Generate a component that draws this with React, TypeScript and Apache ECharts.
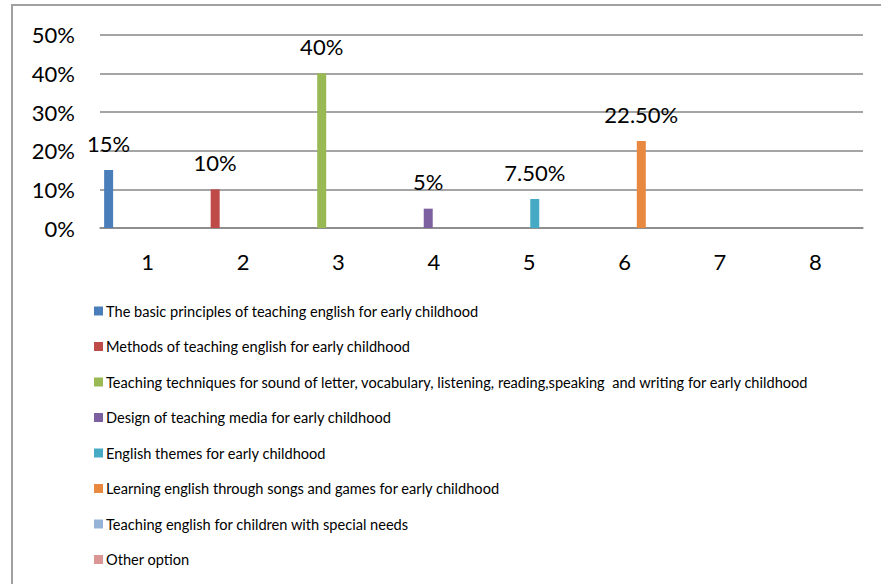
import React, { useEffect, useRef } from "react";
import * as echarts from "echarts";

const categories = ["1", "2", "3", "4", "5", "6", "7", "8"];
const seriesNames = [
  "The basic principles of teaching english for early childhood",
  "Methods of teaching english for early childhood",
  "Teaching techniques for sound of letter, vocabulary, listening, reading,speaking  and writing for early childhood",
  "Design of teaching media for early childhood",
  "English themes for early childhood",
  "Learning english through songs and games for early childhood",
  "Teaching english for children with special needs",
  "Other option",
];
// value of each series (shown only at its own category)
const seriesValues = [15, 10, 40, 5, 7.5, 22.5, null, null];
const valueLabels = ["15%", "10%", "40%", "5%", "7.50%", "22.50%", "", ""];
const colors = ["#4A7EBB", "#BE4B48", "#98B954", "#7D60A0", "#46AAC5", "#E9883F", "#95B3D7", "#D99694"];

export default function App() {
  const ref = useRef<HTMLDivElement>(null);
  useEffect(() => {
    const chart = echarts.init(ref.current!, null, { renderer: "svg" });
    const font = "Lato, 'Open Sans', sans-serif";
    const series = seriesNames.map((name, i) => ({
      name,
      type: "bar",
      barWidth: 9,
      barGap: "24%",
      itemStyle: { color: colors[i] },
      label: {
        show: true,
        position: "top",
        distance: 16,
        fontSize: 22,
        fontFamily: font,
        color: "#000",
        formatter: () => valueLabels[i],
      },
      data: categories.map((_, j) => (j === i && seriesValues[i] != null ? seriesValues[i] : null)),
    }));
    chart.setOption({
      animation: false,
      textStyle: { fontFamily: font },
      graphic: [
        {
          type: "rect",
          shape: { x: 12, y: 5, width: 900, height: 620 },
          style: { fill: "none", stroke: "#A0A0A0", lineWidth: 2 },
          silent: true,
        },
      ],
      grid: { left: 100, right: 18, top: 34.7, bottom: 356, containLabel: false },
      xAxis: {
        type: "category",
        data: categories,
        axisLine: { show: true, lineStyle: { color: "#878787", width: 1.5 } },
        axisTick: { show: false },
        axisLabel: { fontSize: 22, color: "#000", fontFamily: font, margin: 22 },
      },
      yAxis: {
        type: "value",
        min: 0,
        max: 50,
        interval: 10,
        axisLine: { show: false },
        axisTick: { show: false },
        axisLabel: { fontSize: 22, color: "#000", fontFamily: font, margin: 25, formatter: "{value}%" },
        splitLine: { lineStyle: { color: "#878787", width: 1.5 } },
      },
      legend: {
        orient: "vertical",
        left: 89,
        top: 298,
        itemWidth: 9,
        itemHeight: 9,
        itemGap: 19.5,
        icon: "rect",
        selectedMode: false,
        textStyle: { fontSize: 14.6, color: "#000", fontFamily: font, lineHeight: 16, padding: [0, 0, 0, -2] },
        data: seriesNames,
      },
      series,
    });
    return () => chart.dispose();
  }, []);
  return (
    <div
      ref={ref}
      style={{ position: "fixed", left: 0, top: 0, width: 881, height: 584, background: "#fff" }}
    />
  );
}
